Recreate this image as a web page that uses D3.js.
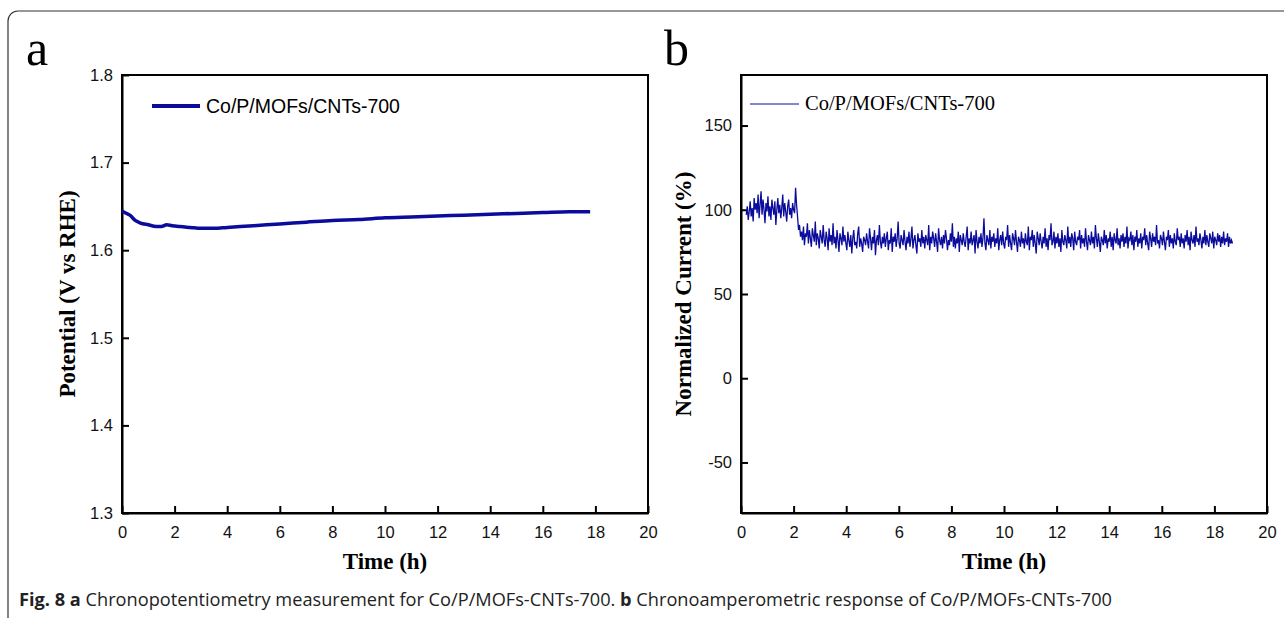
<!DOCTYPE html>
<html>
<head>
<meta charset="utf-8">
<script src="https://cdn.jsdelivr.net/npm/d3@7"></script>
<style>
  body { margin: 0; background: #fff; }
  svg { display: block; }
</style>
</head>
<body>
<div id="chart"></div>
<script>
// panel a: chronopotentiometry
var potTime = [0, 0.1, 0.3, 0.5, 0.7, 1.0, 1.3, 1.5, 1.7, 1.9, 2.2, 2.6, 3.0, 3.5, 4, 5, 6, 7, 8, 9, 10, 11, 12, 13, 14, 15, 16, 17, 17.8];
var potValue = [1.645, 1.643, 1.640, 1.634, 1.631, 1.629, 1.627, 1.627, 1.629, 1.628, 1.627, 1.626, 1.625, 1.625, 1.626, 1.628, 1.630, 1.632, 1.634, 1.635, 1.637, 1.638, 1.639, 1.640, 1.641, 1.642, 1.643, 1.644, 1.644];

// panel b: chronoamperometry, sampled every 0.0375 h from 0.2 h
var curStart = 0.2, curStep = 0.0375;
var curValue = [
  97,102,94,99,105,96,101,93,107,100,104,98,109,95,103,111,97,106,100,92,
  104,99,108,96,102,94,106,101,97,105,91,100,107,98,103,95,101,109,96,104,
  99,93,102,106,97,101,95,104,100,98,113,103,
  96,88,91,84,
  87,82,90,79,86,84,92,80,88,83,78,89,85,81,93,79,86,83,77,88,
  84,80,91,82,78,87,83,76,89,81,85,79,92,80,84,77,88,82,75,86,
  83,79,90,81,85,
  80,76,87,82,78,85,74,83,88,79,81,77,86,90,78,83,80,75,84,82,
  79,86,81,77,89,83,76,84,80,88,73,82,85,79,91,81,77,84,80,86,
  78,83,87,76,82,80,89,75,84,81,86,78,83,93,80,77,85,82,79,88,
  81,76,84,80,87,78,83,90,77,82,85,79,74,86,81,83,78,88,80,84,
  77,85,82,79,91,76,84,80,87,83,78,86,81,75,89,82,79,84,77,85,
  80,88,83,76,82,79,86,81,92,78,84,77,83,80,87,75,85,82,79,86,
  81,78,84,90,76,83,80,87,79,82,85,74,88,81,77,84,80,86,78,83,
  95,80,76,85,82,79,88,77,84,81,86,78,83,80,89,76,82,85,79,87,
  80,77,84,82,91,78,85,80,76,86,83,79,88,81,75,84,82,78,87,80,
  83,77,86,81,79,90,76,84,82,88,78,85,80,74,87,83,79,86,81,77,
  84,80,89,78,83,76,85,82,92,79,81,87,77,84,80,86,78,83,75,88,
  81,79,85,82,77,90,80,84,78,86,83,76,87,81,79,84,82,88,77,85,
  80,83,78,89,81,76,85,82,79,87,80,84,77,91,83,78,86,81,75,84,
  82,79,88,80,85,77,83,81,87,78,84,76,86,82,80,89,79,83,77,85,
  81,86,78,84,80,90,77,83,82,87,79,85,76,84,81,88,78,83,80,86,
  77,84,82,89,79,85,80,76,87,83,78,86,81,84,79,91,80,82,77,85,
  83,79,87,81,76,84,82,88,78,85,80,83,77,86,81,79,89,82,84,78,
  86,80,83,77,85,81,88,79,84,76,87,82,80,85,78,90,81,83,79,86,
  82,77,84,80,88,79,85,81,78,86,83,80,87,77,84,82,79,86,81,85,
  78,84,80,87,79,83,81,86,78,84,80,82,80
];

var xTicks = [0, 2, 4, 6, 8, 10, 12, 14, 16, 18, 20];
var potTicks = [1.3, 1.4, 1.5, 1.6, 1.7, 1.8];
var curTicks = [-50, 0, 50, 100, 150];
var seriesName = 'Co/P/MOFs/CNTs-700';
var lineColor = '#0c0c9c';

var W = 1284, H = 618;
var svg = d3.select('#chart').append('svg').attr('width', W).attr('height', H);

// outer frame
svg.append('rect')
    .attr('x', 8).attr('y', 11)
    .attr('width', 1300).attr('height', 620)
    .attr('rx', 10)
    .style('fill', 'none').style('stroke', '#333').style('stroke-width', 1.2);

function panel(opt) {
    var g = svg.append('g');
    var x = d3.scaleLinear().domain([0, 20]).range([opt.left, opt.right]);
    var y = d3.scaleLinear().domain(opt.ydomain).range([opt.bottom, opt.top]);

    // frame
    g.append('rect')
        .attr('x', opt.left).attr('y', opt.top)
        .attr('width', opt.right - opt.left).attr('height', opt.bottom - opt.top)
        .style('fill', 'none').style('stroke', '#000').style('stroke-width', 2);

    var xa = g.append('g')
        .attr('transform', `translate(0,${opt.bottom})`)
        .call(d3.axisBottom(x).tickValues(xTicks).tickSizeInner(-7).tickSizeOuter(0).tickPadding(13));
    var ya = g.append('g')
        .attr('transform', `translate(${opt.left},0)`)
        .call(d3.axisLeft(y).tickValues(opt.yticks).tickSizeInner(-7).tickSizeOuter(0).tickPadding(9).tickFormat(opt.yfmt));
    [xa, ya].forEach(a => {
        a.select('.domain').style('stroke', '#000').style('stroke-width', 2);
        a.selectAll('.tick line').style('stroke', '#000').style('stroke-width', 2);
        a.selectAll('.tick text')
            .style('font-family', '"Liberation Sans", Arial, sans-serif')
            .style('font-size', '16.5px').style('fill', '#111');
    });

    g.append('text')
        .attr('x', (opt.left + opt.right) / 2).attr('y', opt.bottom + 56)
        .style('text-anchor', 'middle')
        .style('font-family', '"Liberation Serif", "Times New Roman", serif')
        .style('font-weight', 'bold').style('font-size', '23px')
        .text('Time (h)');

    g.append('text')
        .attr('transform', `translate(${opt.ytitleX},${(opt.top + opt.bottom) / 2}) rotate(-90)`)
        .style('text-anchor', 'middle')
        .style('font-family', '"Liberation Serif", "Times New Roman", serif')
        .style('font-weight', 'bold').style('font-size', '23px')
        .text(opt.ytitle);

    g.append('text')
        .attr('x', opt.letterX).attr('y', 65)
        .style('font-family', '"Liberation Serif", "Times New Roman", serif')
        .style('font-size', '50px')
        .text(opt.letter);

    return { g: g, x: x, y: y };
}

var pa = panel({
    left: 122, right: 648, top: 75, bottom: 513,
    ydomain: [1.3, 1.8], yticks: potTicks, yfmt: d3.format('.1f'),
    ytitle: 'Potential (V vs RHE)', ytitleX: 75, letter: 'a', letterX: 26
});
var pb = panel({
    left: 741, right: 1267, top: 75, bottom: 513,
    ydomain: [-80, 180], yticks: curTicks, yfmt: d => String(d),
    ytitle: 'Normalized Current (%)', ytitleX: 691, letter: 'b', letterX: 664
});

var potData = potTime.map((t, i) => ({ t: t, v: potValue[i] }));
pa.g.append('path')
    .datum(potData)
    .attr('d', d3.line().curve(d3.curveMonotoneX).x(d => pa.x(d.t)).y(d => pa.y(d.v)))
    .style('fill', 'none').style('stroke', lineColor).style('stroke-width', 3.5);

var curData = curValue.map((v, i) => ({ t: curStart + i * curStep, v: v }));
pb.g.append('path')
    .datum(curData)
    .attr('d', d3.line().x(d => pb.x(d.t)).y(d => pb.y(d.v)))
    .style('fill', 'none').style('stroke', lineColor).style('stroke-width', 1.3);

// legends
pa.g.append('line')
    .attr('x1', 152).attr('x2', 200).attr('y1', 106).attr('y2', 106)
    .style('stroke', lineColor).style('stroke-width', 4);
pa.g.append('text')
    .attr('x', 206).attr('y', 113)
    .style('font-family', '"Liberation Sans", Arial, sans-serif')
    .style('font-size', '19.5px')
    .text(seriesName);

pb.g.append('line')
    .attr('x1', 750).attr('x2', 799).attr('y1', 104).attr('y2', 104)
    .style('stroke', lineColor).style('stroke-width', 1);
pb.g.append('text')
    .attr('x', 805).attr('y', 110)
    .style('font-family', '"Liberation Serif", "Times New Roman", serif')
    .style('font-size', '20.5px')
    .text(seriesName);

// caption
var cap = svg.append('text')
    .attr('x', 19).attr('y', 606)
    .attr('textLength', 1093).attr('lengthAdjust', 'spacingAndGlyphs')
    .style('font-family', '"Open Sans", sans-serif')
    .style('font-size', '17.5px').style('fill', '#222');
cap.append('tspan').style('font-weight', 'bold').text('Fig. 8 a');
cap.append('tspan').text(' Chronopotentiometry measurement for Co/P/MOFs-CNTs-700. ');
cap.append('tspan').style('font-weight', 'bold').text('b');
cap.append('tspan').text(' Chronoamperometric response of Co/P/MOFs-CNTs-700');
</script>
</body>
</html>
